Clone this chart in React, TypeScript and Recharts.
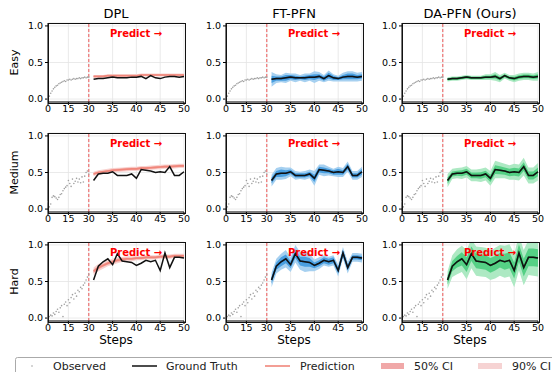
import React from 'react';
import { ComposedChart, Line, Area, XAxis, YAxis, CartesianGrid, ReferenceLine } from 'recharts';

const obsSteps = [0, 1, 2, 3, 4, 5, 6, 7, 8, 9, 10, 11, 12, 13, 14, 15, 16, 17, 18, 19, 20, 21, 22, 23, 24, 25, 26, 27, 28, 29, 30];
const predSteps = [31, 32, 33, 34, 35, 36, 37, 38, 39, 40, 41, 42, 43, 44, 45, 46, 47, 48, 49, 50];
const xTicks = [0, 15, 30, 35, 40, 45, 50];
const yTicks = [0, 0.5, 1];

const rowNames = ['Easy', 'Medium', 'Hard'];
const methodNames = ['DPL', 'FT-PFN', 'DA-PFN (Ours)'];

// observed curves (steps 0..30)
const easyObs = [0.0, 0.04, 0.08, 0.11, 0.14, 0.16, 0.18, 0.19, 0.21, 0.22, 0.23, 0.24, 0.25, 0.24, 0.26, 0.26, 0.27, 0.26, 0.27, 0.28, 0.27, 0.28, 0.28, 0.29, 0.28, 0.29, 0.29, 0.3, 0.29, 0.3, 0.3];
const mediumObs = [0.1, 0.03, 0.07, 0.16, 0.18, 0.17, 0.15, 0.13, 0.16, 0.2, 0.21, 0.25, 0.28, 0.3, 0.32, 0.39, 0.35, 0.31, 0.41, 0.35, 0.38, 0.42, 0.37, 0.41, 0.36, 0.44, 0.37, 0.45, 0.5, 0.52, 0.48];
const hardObs = [0.0, 0.02, 0.04, 0.03, 0.07, 0.05, 0.09, 0.12, 0.08, 0.14, 0.17, 0.02, 0.19, 0.22, 0.17, 0.25, 0.21, 0.28, 0.32, 0.26, 0.34, 0.3, 0.38, 0.36, 0.42, 0.4, 0.45, 0.48, 0.52, 0.56, 0.6];

// ground truth (steps 31..50)
const easyTruth = [0.27, 0.28, 0.28, 0.29, 0.3, 0.29, 0.29, 0.29, 0.3, 0.3, 0.31, 0.28, 0.32, 0.29, 0.28, 0.3, 0.31, 0.31, 0.3, 0.31];
const mediumTruth = [0.39, 0.48, 0.49, 0.49, 0.51, 0.46, 0.46, 0.46, 0.48, 0.42, 0.54, 0.53, 0.52, 0.5, 0.51, 0.5, 0.58, 0.46, 0.46, 0.51];
const hardTruth = [0.52, 0.71, 0.77, 0.81, 0.73, 0.88, 0.78, 0.77, 0.76, 0.72, 0.75, 0.79, 0.77, 0.79, 0.65, 0.89, 0.69, 0.83, 0.83, 0.82];

// DPL
const dplEasyMean = [0.31, 0.31, 0.31, 0.32, 0.32, 0.32, 0.32, 0.32, 0.32, 0.32, 0.33, 0.33, 0.33, 0.33, 0.33, 0.33, 0.33, 0.33, 0.33, 0.33];
const dplMediumMean = [0.48, 0.5, 0.51, 0.52, 0.53, 0.535, 0.54, 0.545, 0.55, 0.55, 0.56, 0.56, 0.565, 0.57, 0.575, 0.58, 0.58, 0.585, 0.59, 0.59];
const dplHardMean = [0.64, 0.69, 0.72, 0.75, 0.77, 0.79, 0.8, 0.81, 0.81, 0.82, 0.82, 0.83, 0.83, 0.83, 0.84, 0.84, 0.84, 0.85, 0.85, 0.85];
const dplEasy50 = [0.01, 0.01, 0.01, 0.01, 0.01, 0.01, 0.01, 0.01, 0.01, 0.01, 0.01, 0.01, 0.01, 0.01, 0.01, 0.01, 0.01, 0.01, 0.01, 0.01];
const dplEasy90 = [0.02, 0.02, 0.02, 0.02, 0.02, 0.02, 0.02, 0.02, 0.02, 0.02, 0.02, 0.02, 0.02, 0.02, 0.02, 0.02, 0.02, 0.02, 0.02, 0.02];
const dplMedium50 = [0.015, 0.015, 0.015, 0.015, 0.015, 0.015, 0.015, 0.015, 0.015, 0.015, 0.015, 0.015, 0.015, 0.015, 0.015, 0.015, 0.015, 0.015, 0.015, 0.015];
const dplMedium90 = [0.03, 0.03, 0.03, 0.03, 0.03, 0.03, 0.03, 0.03, 0.03, 0.03, 0.03, 0.03, 0.03, 0.03, 0.03, 0.03, 0.03, 0.03, 0.03, 0.03];
const dplHard50 = [0.025, 0.025, 0.02, 0.02, 0.02, 0.02, 0.02, 0.015, 0.015, 0.015, 0.015, 0.015, 0.015, 0.015, 0.015, 0.015, 0.015, 0.015, 0.015, 0.015];
const dplHard90 = [0.05, 0.05, 0.045, 0.04, 0.04, 0.04, 0.035, 0.035, 0.035, 0.03, 0.03, 0.03, 0.03, 0.03, 0.03, 0.03, 0.03, 0.03, 0.03, 0.03];

// FT-PFN (mean follows the truth)
const ftEasy50 = [0.05, 0.03, 0.03, 0.04, 0.03, 0.03, 0.02, 0.03, 0.03, 0.04, 0.03, 0.03, 0.04, 0.03, 0.02, 0.03, 0.04, 0.04, 0.03, 0.03];
const ftEasy90 = [0.1, 0.06, 0.05, 0.07, 0.05, 0.06, 0.04, 0.06, 0.05, 0.08, 0.06, 0.05, 0.07, 0.05, 0.04, 0.06, 0.07, 0.07, 0.06, 0.06];
const ftMedium50 = [0.04, 0.04, 0.05, 0.04, 0.03, 0.03, 0.03, 0.03, 0.03, 0.05, 0.04, 0.04, 0.03, 0.03, 0.04, 0.03, 0.04, 0.03, 0.03, 0.04];
const ftMedium90 = [0.08, 0.08, 0.09, 0.08, 0.06, 0.06, 0.05, 0.06, 0.06, 0.1, 0.07, 0.08, 0.06, 0.05, 0.07, 0.06, 0.07, 0.06, 0.06, 0.07];
const ftHard50 = [0.05, 0.05, 0.06, 0.06, 0.05, 0.06, 0.06, 0.07, 0.06, 0.04, 0.04, 0.04, 0.04, 0.04, 0.04, 0.04, 0.04, 0.03, 0.03, 0.03];
const ftHard90 = [0.1, 0.1, 0.11, 0.12, 0.1, 0.12, 0.12, 0.14, 0.12, 0.08, 0.08, 0.07, 0.07, 0.07, 0.08, 0.08, 0.08, 0.06, 0.06, 0.06];

// DA-PFN
const daEasy50 = [0.015, 0.015, 0.015, 0.015, 0.015, 0.015, 0.015, 0.015, 0.02, 0.02, 0.03, 0.025, 0.02, 0.02, 0.025, 0.025, 0.025, 0.025, 0.025, 0.03];
const daEasy90 = [0.03, 0.03, 0.03, 0.03, 0.03, 0.03, 0.03, 0.03, 0.04, 0.04, 0.06, 0.05, 0.04, 0.04, 0.05, 0.05, 0.05, 0.05, 0.05, 0.06];
const daMedium50 = [0.045, 0.035, 0.035, 0.04, 0.04, 0.04, 0.04, 0.045, 0.045, 0.05, 0.06, 0.055, 0.05, 0.05, 0.055, 0.055, 0.06, 0.055, 0.055, 0.06];
const daMedium90 = [0.09, 0.07, 0.07, 0.08, 0.08, 0.08, 0.08, 0.09, 0.09, 0.1, 0.12, 0.11, 0.1, 0.1, 0.11, 0.11, 0.12, 0.11, 0.11, 0.12];
const daHard50 = [0.06, 0.07, 0.08, 0.09, 0.1, 0.1, 0.1, 0.1, 0.1, 0.1, 0.1, 0.1, 0.11, 0.11, 0.11, 0.12, 0.12, 0.12, 0.12, 0.12];
const daHard90 = [0.12, 0.15, 0.17, 0.18, 0.2, 0.2, 0.2, 0.2, 0.2, 0.2, 0.21, 0.21, 0.22, 0.22, 0.23, 0.24, 0.24, 0.24, 0.25, 0.25];

const obsByRow = [easyObs, mediumObs, hardObs];
const truthByRow = [easyTruth, mediumTruth, hardTruth];
const meanByPanel = [
  [dplEasyMean, easyTruth, easyTruth],
  [dplMediumMean, mediumTruth, mediumTruth],
  [dplHardMean, hardTruth, hardTruth],
];
const w50ByPanel = [
  [dplEasy50, ftEasy50, daEasy50],
  [dplMedium50, ftMedium50, daMedium50],
  [dplHard50, ftHard50, daHard50],
];
const w90ByPanel = [
  [dplEasy90, ftEasy90, daEasy90],
  [dplMedium90, ftMedium90, daMedium90],
  [dplHard90, ftHard90, daHard90],
];

const palette = [
  { line: '#f0867a', c50: '#f3a5a0', c90: '#f8d3d0' },
  { line: '#1f6fb4', c50: '#4a9fe0', c90: '#a6d0f0' },
  { line: '#1e9e4a', c50: '#55d085', c90: '#ade9c3' },
];

// steps 0..30 take 30% of the axis, 30..50 the remaining 70%
const pos = (s: number) => (s <= 30 ? s * 0.01 : 0.3 + (s - 30) * 0.035);

const plotLefts = [48, 226, 402];
const plotTops = [23, 133, 242];
const PW = 136;
const PH = 79;
const YW = 40;
const FONT = 'DejaVu Sans';

function Panel({ row, col }: { row: number; col: number }) {
  const obs = obsByRow[row];
  const truth = truthByRow[row];
  const mean = meanByPanel[row][col];
  const w50 = w50ByPanel[row][col];
  const w90 = w90ByPanel[row][col];
  const c = palette[col];
  const data = [
    ...obsSteps.map((s, i) => ({ x: pos(s), obs: obs[i] })),
    ...predSteps.map((s, i) => ({
      x: pos(s),
      gt: truth[i],
      mean: mean[i],
      b50: [mean[i] - w50[i], mean[i] + w50[i]],
      b90: [mean[i] - w90[i], mean[i] + w90[i]],
    })),
  ];
  return (
    <div style={{ position: 'absolute', left: plotLefts[col] - YW, top: plotTops[row] - 2 }}>
      <ComposedChart width={YW + PW + 8} height={PH + 2 + 20} data={data} margin={{ top: 2, right: 8, bottom: 0, left: 0 }}>
        <CartesianGrid stroke="#e4e4e4" strokeWidth={0.8} />
        <XAxis
          type="number"
          dataKey="x"
          domain={[0, 1]}
          ticks={xTicks.map(pos)}
          interval={0}
          tickFormatter={(v, i) => String(xTicks[i])}
          height={20}
          tickSize={3}
          tickMargin={0}
          tick={{ fontSize: 9.5, fill: '#000', fontFamily: FONT }}
          tickLine={{ stroke: '#000' }}
          axisLine={{ stroke: '#000' }}
        />
        <YAxis
          type="number"
          domain={[-0.04, 1.04]}
          allowDataOverflow
          ticks={yTicks}
          interval={0}
          tickFormatter={(v) => Number(v).toFixed(1)}
          width={YW}
          tickSize={3}
          tickMargin={2}
          tick={{ fontSize: 9.5, fill: '#000', fontFamily: FONT }}
          tickLine={{ stroke: '#000' }}
          axisLine={{ stroke: '#000' }}
        />
        <ReferenceLine x={pos(30)} stroke="#ee3333" strokeOpacity={0.8} strokeDasharray="3 2" strokeWidth={1} />
        <Area type="linear" dataKey="b90" stroke="none" fill={c.c90} fillOpacity={1} isAnimationActive={false} />
        <Area type="linear" dataKey="b50" stroke="none" fill={c.c50} fillOpacity={1} isAnimationActive={false} />
        <Line type="linear" dataKey="mean" stroke={c.line} strokeWidth={1.6} dot={false} isAnimationActive={false} />
        <Line type="linear" dataKey="gt" stroke="#111" strokeWidth={1.5} dot={false} isAnimationActive={false} />
        <Line type="linear" dataKey="obs" stroke="none" dot={{ r: 0.8, fill: '#a0a0a0', stroke: 'none' }} isAnimationActive={false} />
      </ComposedChart>
    </div>
  );
}

export default function App() {
  return (
    <div style={{ position: 'absolute', left: 0, top: 0, width: 552, height: 372, background: '#fff', overflow: 'hidden', fontFamily: FONT }}>
      {rowNames.map((_, r) => methodNames.map((_, c) => <Panel key={`${r}-${c}`} row={r} col={c} />))}
      {rowNames.map((_, r) =>
        methodNames.map((_, c) => (
          <div
            key={`b${r}-${c}`}
            style={{ position: 'absolute', left: plotLefts[c] - 0.5, top: plotTops[r] - 0.5, width: PW, height: PH, border: '1px solid #111', pointerEvents: 'none' }}
          />
        ))
      )}
      <svg width={552} height={372} style={{ position: 'absolute', left: 0, top: 0, pointerEvents: 'none' }} fontFamily={FONT}>
        {methodNames.map((m, c) => (
          <text key={m} x={plotLefts[c] + PW / 2} y={17.5} fontSize={13} textAnchor="middle" fill="#000">{m}</text>
        ))}
        {rowNames.map((n, r) => {
          const cy = plotTops[r] + PH / 2;
          return (
            <text key={n} x={18} y={cy} fontSize={11} textAnchor="middle" fill="#000" transform={`rotate(-90 18 ${cy})`}>{n}</text>
          );
        })}
        {rowNames.map((n, r) =>
          methodNames.map((m, c) => (
            <text key={`p${r}${c}`} x={plotLefts[c] + 88} y={plotTops[r] + 13.5} fontSize={10} fontWeight="bold" textAnchor="middle" fill="#ff0000">Predict →</text>
          ))
        )}
        {methodNames.map((m, c) => (
          <text key={`s${c}`} x={plotLefts[c] + PW / 2} y={344} fontSize={12} textAnchor="middle" fill="#000">Steps</text>
        ))}
        <rect x={15.5} y={357.5} width={560} height={24} rx={2} fill="#fff" stroke="#aaa" />
        <circle cx={32} cy={366} r={0.8} fill="#a0a0a0" />
        <text x={53} y={370} fontSize={11} fill="#222">Observed</text>
        <line x1={132} x2={157} y1={366} y2={366} stroke="#111" strokeWidth={1.5} />
        <text x={166} y={370} fontSize={11} fill="#222">Ground Truth</text>
        <line x1={265} x2={290} y1={366} y2={366} stroke="#f0867a" strokeWidth={1.6} />
        <text x={300} y={370} fontSize={11} fill="#222">Prediction</text>
        <rect x={381} y={363} width={23} height={6} fill="#f0a8a8" />
        <text x={414} y={370} fontSize={11} fill="#222">50% CI</text>
        <rect x={478} y={363} width={24} height={6} fill="#f6d3d3" />
        <text x={512} y={370} fontSize={11} fill="#222">90% CI</text>
      </svg>
    </div>
  );
}
